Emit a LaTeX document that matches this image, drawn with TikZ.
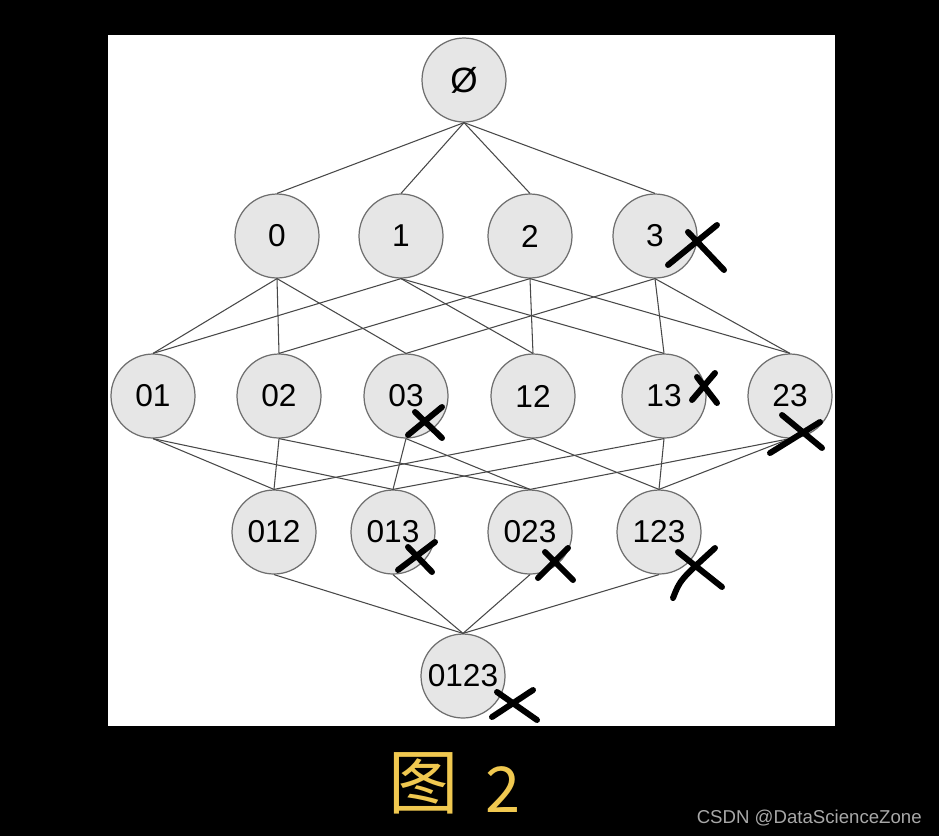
\documentclass[tikz,border=0pt]{standalone}
\usepackage{fontspec}
\setmainfont{Liberation Sans}
\newfontfamily\cjkfont{Noto Sans CJK SC}
\definecolor{setfill}{HTML}{E6E6E6}
\definecolor{setline}{HTML}{6E6E6E}
\definecolor{linkgray}{HTML}{484848}
\definecolor{capyellow}{HTML}{F0C850}
\definecolor{markgray}{HTML}{A8A8A8}

\begin{document}
\begin{tikzpicture}[x=0.02cm, y=-0.02cm,
    set/.style={draw=setline, fill=setfill, circle, minimum size=1.68cm,
                inner sep=0pt, line width=0.7pt,
                font=\fontsize{18}{20}\selectfont},
    link/.style={draw=linkgray, line width=0.6pt},
    cross/.style={line width=3.4pt, line cap=round, line join=round},
    caption/.style={text=capyellow, inner sep=0pt}
  ]
    % background and white panel
    \useasboundingbox (0,0) rectangle (939,836);
    \fill[black] (0,0) rectangle (939,836);
    \fill[white] (108,35) rectangle (835,726);

    % lattice of itemsets
    \node[set] (e)    at (464,80)  {\fontsize{20}{22}\selectfont Ø};
    \node[set] (n0)   at (277,236) {0};
    \node[set] (n1)   at (401,236) {1};
    \node[set] (n2)   at (530,236) {2};
    \node[set] (n3)   at (655,236) {3};
    \node[set] (n01)  at (153,396) {01};
    \node[set] (n02)  at (279,396) {02};
    \node[set] (n03)  at (406,396) {03};
    \node[set] (n12)  at (533,396) {12};
    \node[set] (n13)  at (664,396) {13};
    \node[set] (n23)  at (790,396) {23};
    \node[set] (n012) at (274,532) {012};
    \node[set] (n013) at (393,532) {013};
    \node[set] (n023) at (530,532) {023};
    \node[set] (n123) at (659,532) {123};
    \node[set] (n0123) at (463,676) {0123};

    % subset links
    \foreach \a/\b in {e/n0, e/n1, e/n2, e/n3,
        n0/n01, n0/n02, n0/n03, n1/n01, n1/n12, n1/n13,
        n2/n02, n2/n12, n2/n23, n3/n03, n3/n13, n3/n23,
        n01/n012, n01/n013, n02/n012, n02/n023, n03/n013, n03/n023,
        n12/n012, n12/n123, n13/n013, n13/n123, n23/n023, n23/n123,
        n012/n0123, n013/n0123, n023/n0123, n123/n0123}
      \draw[link] (\a.south) -- (\b.north);

    % pruned sets
    \draw[cross] (668,265) -- (717,225) (688,232) -- (724,270);
    \draw[cross] (692,400) -- (715,373) (697,377) -- (717,403);
    \draw[cross] (408,435) -- (442,407) (415,412) -- (442,438);
    \draw[cross] (770,453) -- (820,422) (782,415) -- (822,448);
    \draw[cross] (398,570) -- (435,542) (408,547) -- (432,572);
    \draw[cross] (538,578) -- (568,548) (545,552) -- (573,580);
    \draw[cross] (673,598) .. controls (680,580) .. (715,548)
                 (678,552) -- (722,587);
    \draw[cross] (492,717) -- (533,690) (497,692) -- (537,720);

    % caption and watermark
    \node[caption, font=\cjkfont\fontsize{40}{44}\selectfont] (figchar) at (424,783) {图};
    \node[caption, font=\cjkfont\fontsize{36}{40}\selectfont] (fignum) at (503,790) {2};
    \node[anchor=east, text=markgray, inner sep=0pt,
          font=\fontsize{10.6}{13}\selectfont] (mark) at (922,818) {CSDN @DataScienceZone};
  \end{tikzpicture}
\end{document}
